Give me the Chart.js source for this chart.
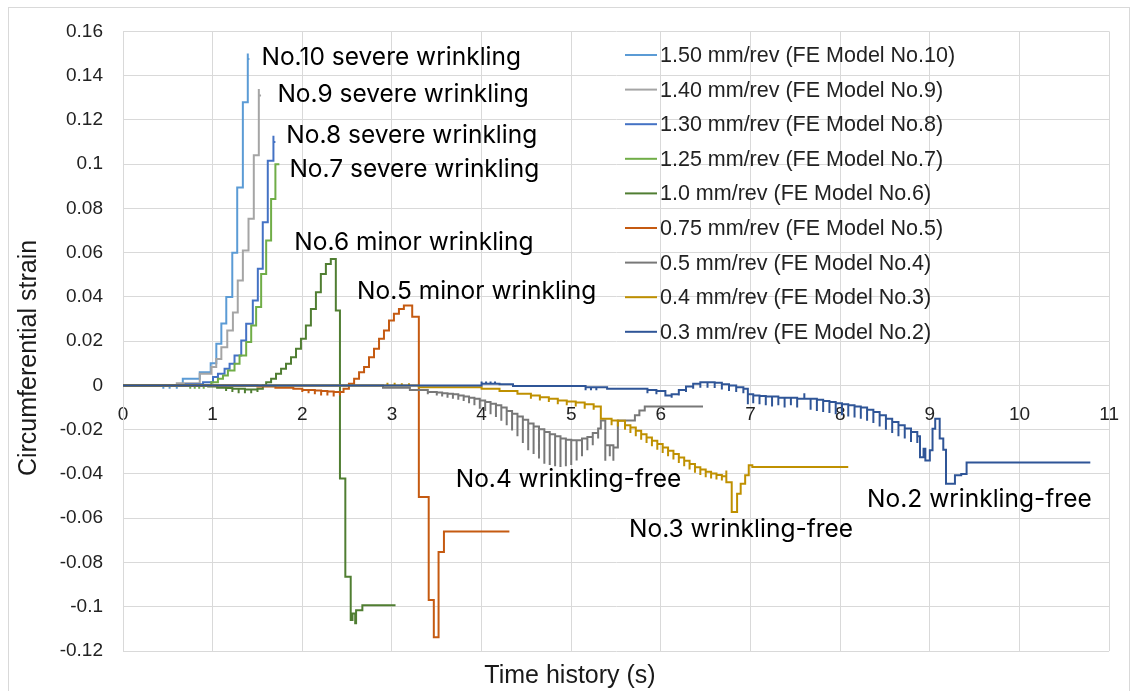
<!DOCTYPE html>
<html>
<head>
<meta charset="utf-8">
<title>Circumferential strain vs time</title>
<script src="https://cdn.jsdelivr.net/npm/chart.js@4.4.1/dist/chart.umd.min.js"></script>
<style>
  html, body { margin: 0; padding: 0; background: #fff; }
  #wrap { position: relative; width: 1137px; height: 691px; overflow: hidden; }
  #frame { position: absolute; left: 8px; top: 7px; width: 1122px; height: 700px; border: 1px solid #d9d9d9; box-sizing: border-box; }
  #chart { position: absolute; left: 0; top: 0; }
</style>
</head>
<body>
<div id="wrap">
  <div id="frame"></div>
  <canvas id="chart" width="1137" height="691"></canvas>
</div>
<script>
// feed rates, one series per FE model (No.10 first, No.2 last)
const seriesNames = [
  '1.50 mm/rev (FE Model No.10)',
  '1.40 mm/rev (FE Model No.9)',
  '1.30 mm/rev (FE Model No.8)',
  '1.25 mm/rev (FE Model No.7)',
  '1.0 mm/rev (FE Model No.6)',
  '0.75 mm/rev (FE Model No.5)',
  '0.5 mm/rev (FE Model No.4)',
  '0.4 mm/rev (FE Model No.3)',
  '0.3 mm/rev (FE Model No.2)'
];

const noteText = [
  'No.10 severe wrinkling',
  'No.9 severe wrinkling',
  'No.8 severe wrinkling',
  'No.7 severe wrinkling',
  'No.6 minor wrinkling',
  'No.5 minor wrinkling',
  'No.4 wrinkling-free',
  'No.3 wrinkling-free',
  'No.2 wrinkling-free'
];

// t = time where the step starts (s), y = strain level after it,
// p = tip of the short spike drawn at that step (null = none)
const t10 = [0, 0.45, 0.52, 0.60, 0.667, 0.856, 0.978, 1.041, 1.097, 1.152, 1.219, 1.274, 1.337, 1.392, 1.392, 1.41];
const y10 = [0, 0, 0, 0, 0.003, 0.006, 0.010, 0.0188, 0.028, 0.040, 0.060, 0.0895, 0.128, 0.150, 0.1475, 0.1475];
const p10 = [null, -0.0015, -0.0015, -0.0015, null, null, null, null, null, null, null, null, null, null, null, null];

const t9 = [0, 0.6, 0.856, 0.985, 1.04, 1.097, 1.163, 1.226, 1.28, 1.337, 1.40, 1.459, 1.515, 1.515, 1.54];
const y9 = [0, 0.001, 0.0053, 0.0083, 0.012, 0.0173, 0.0248, 0.033, 0.0474, 0.061, 0.0753, 0.104, 0.134, 0.131, 0.131];

const t8 = [0, 0.7, 0.893, 1.004, 1.059, 1.133, 1.189, 1.244, 1.319, 1.374, 1.448, 1.504, 1.559, 1.615, 1.678, 1.678, 1.70];
const y8 = [0, 0.0005, 0.0015, 0.0038, 0.0053, 0.0075, 0.0098, 0.0135, 0.0203, 0.0279, 0.0384, 0.0527, 0.0737, 0.1016, 0.1129, 0.110, 0.110];

const t7 = [0, 0.75, 0.8, 0.85, 0.9, 0.985, 1.059, 1.115, 1.17, 1.244, 1.30, 1.374, 1.43, 1.485, 1.541, 1.597, 1.652, 1.70, 1.744];
const y7 = [0, 0, 0, 0, 0, 0.0015, 0.003, 0.0045, 0.0068, 0.0098, 0.0135, 0.0196, 0.0271, 0.0354, 0.0504, 0.0655, 0.0843, 0.100, 0.100];
const p7 = [null, -0.0015, -0.0015, -0.0015, -0.0015, null, null, null, null, null, null, null, null, null, null, null, null, null, null];

const t6 = [0, 0.95, 1.05, 1.15, 1.22, 1.29, 1.36, 1.43, 1.50, 1.56, 1.597, 1.652, 1.707, 1.763, 1.818, 1.874, 1.93, 1.985, 2.04, 2.096, 2.152, 2.207, 2.263, 2.318, 2.374, 2.42, 2.48, 2.54, 2.56, 2.59, 2.60, 2.67, 3.04];
const y6 = [0, -0.0005, -0.001, -0.0012, -0.0015, -0.0015, -0.0018, -0.0018, -0.0015, 0, 0.0015, 0.003, 0.0053, 0.0075, 0.0098, 0.0128, 0.0166, 0.0211, 0.0271, 0.0346, 0.0421, 0.0504, 0.0549, 0.0572, 0.0339, -0.042, -0.0865, -0.106, -0.103, -0.1075, -0.1016, -0.0993, -0.0993];
const p6 = [null, null, null, -0.0025, -0.003, -0.0035, -0.0035, -0.0035, -0.003, null, null, null, null, null, null, null, null, null, null, null, null, null, null, null, null, null, null, null, null, null, null, null, null];

const t5 = [0, 1.5, 1.7, 1.9, 2.0, 2.07, 2.14, 2.21, 2.28, 2.35, 2.42, 2.46, 2.52, 2.578, 2.633, 2.689, 2.744, 2.80, 2.856, 2.911, 2.967, 3.022, 3.078, 3.133, 3.226, 3.30, 3.41, 3.467, 3.52, 3.58, 4.31];
const y5 = [0, -0.0005, -0.001, -0.0015, -0.002, -0.002, -0.0023, -0.0025, -0.0027, -0.003, -0.003, -0.0015, 0.0008, 0.003, 0.006, 0.0083, 0.0128, 0.0166, 0.0211, 0.0248, 0.0293, 0.0324, 0.0346, 0.0361, 0.031, -0.0504, -0.097, -0.1138, -0.0753, -0.066, -0.066];
const p5 = [null, null, null, null, -0.003, -0.0035, -0.004, -0.0045, -0.0045, -0.005, -0.0045, null, null, null, null, null, null, null, null, null, null, null, null, null, null, null, null, null, null, null, null];

const t4 = [0, 2.9, 3.2, 3.4,
  3.50, 3.56, 3.62, 3.68, 3.74, 3.80, 3.86, 3.92, 3.98, 4.04, 4.10, 4.16, 4.22, 4.28, 4.34, 4.40,
  4.46, 4.52, 4.58, 4.64, 4.70, 4.76, 4.82, 4.88, 4.94, 5.00, 5.06, 5.12, 5.18, 5.24, 5.30,
  5.33, 5.38, 5.43, 5.47, 5.52, 5.71, 5.76, 5.82, 6.47];
const y4 = [0, -0.001, -0.002, -0.003,
  -0.0032, -0.0035, -0.0038, -0.004, -0.0045, -0.005, -0.0055, -0.006, -0.0068, -0.0075, -0.0083, -0.009, -0.010, -0.0115, -0.0128, -0.014,
  -0.0155, -0.0172, -0.0185, -0.0198, -0.021, -0.022, -0.023, -0.024, -0.0245, -0.0248, -0.0248, -0.024, -0.0233, -0.0215, -0.0195,
  -0.0158, -0.027, -0.027, -0.028, -0.0158, -0.0135, -0.0113, -0.0095, -0.0095];
const p4 = [null, null, null, -0.004,
  -0.0045, -0.005, -0.0055, -0.006, -0.0065, -0.007, -0.008, -0.009, -0.0105, -0.0115, -0.013, -0.0143, -0.016, -0.018, -0.0203, -0.023,
  -0.026, -0.0293, -0.031, -0.033, -0.0354, -0.036, -0.0365, -0.0369, -0.0365, -0.036, -0.0339, -0.032, -0.0293, -0.027, -0.024,
  null, -0.034, -0.032, -0.034, null, null, null, null, null];

const t3 = [0, 2.95, 3.03, 3.11, 3.19, 3.3, 4.0, 4.2, 4.4,
  4.55, 4.65, 4.75, 4.85, 4.95, 5.05, 5.15, 5.25,
  5.33, 5.45, 5.52,
  5.60, 5.66, 5.72, 5.78, 5.84, 5.90, 5.96, 6.02, 6.08, 6.14, 6.20, 6.26, 6.32, 6.38, 6.44, 6.50, 6.56, 6.62, 6.68,
  6.73, 6.79, 6.85, 6.89, 6.94, 6.98, 7.02, 8.09];
const y3 = [0, 0, 0, 0, 0, -0.0008, -0.0015, -0.0025, -0.0038,
  -0.0045, -0.0053, -0.006, -0.0068, -0.0072, -0.0077, -0.0085, -0.0095,
  -0.015, -0.0158, -0.016,
  -0.018, -0.019, -0.0205, -0.022, -0.0235, -0.025, -0.0265, -0.028, -0.0295, -0.031, -0.0325, -0.034, -0.0355, -0.037, -0.038, -0.039, -0.0398, -0.0405, -0.041,
  -0.0437, -0.0572, -0.0489, -0.0444, -0.0406, -0.0361, -0.0369, -0.0369];
const p3 = [null, 0.0012, 0.0012, 0.001, 0.001, null, null, null, null,
  -0.006, -0.0068, -0.0075, -0.0085, -0.009, -0.0095, -0.0105, -0.011,
  null, -0.018, -0.0185,
  -0.020, -0.0215, -0.023, -0.0245, -0.026, -0.0275, -0.029, -0.0305, -0.032, -0.0335, -0.035, -0.0365, -0.038, -0.0395, -0.0405, -0.0415, -0.042, -0.0425, -0.043,
  -0.0384, null, null, null, null, null, null, null];

const t2 = [0, 4.0, 4.05, 4.1, 4.15, 4.2, 4.35,
  5.16, 5.22, 5.28, 5.4, 5.74,
  5.85, 5.95, 6.05, 6.12, 6.2, 6.28, 6.36, 6.44, 6.52, 6.6, 6.68, 6.76, 6.84, 6.92,
  6.97, 7.03, 7.1, 7.17, 7.24, 7.31, 7.38, 7.45, 7.52, 7.6,
  7.67, 7.74, 7.81, 7.88, 7.95, 8.02, 8.09, 8.16, 8.23, 8.30,
  8.37, 8.44, 8.51, 8.58, 8.65, 8.72, 8.79, 8.86,
  8.89, 8.93, 8.95, 9.0, 9.03, 9.06, 9.11, 9.15, 9.18, 9.28, 9.35, 9.41, 10.79];
const y2 = [0, 0.0008, 0.0008, 0.0008, 0.0008, 0.0005, -0.0003,
  -0.0008, -0.0008, -0.0008, -0.0015, -0.0015,
  -0.002, -0.0025, -0.0045, -0.004, -0.002, -0.0005, 0.0008, 0.0015, 0.0015, 0.0012, 0.0005, 0, -0.0008, -0.0015,
  -0.004, -0.0045, -0.0048, -0.005, -0.005, -0.0055, -0.0055, -0.0055, -0.006, -0.006,
  -0.006, -0.0065, -0.007, -0.0075, -0.008, -0.0085, -0.009, -0.0095, -0.010, -0.011,
  -0.012, -0.0135, -0.015, -0.0165, -0.018, -0.0195, -0.021, -0.023,
  -0.0324, -0.0286, -0.0339, -0.0293, -0.0196, -0.015, -0.024, -0.029, -0.0444, -0.0406, -0.040, -0.0348, -0.0348];
const p2 = [null, 0.0018, 0.0018, 0.0018, 0.0018, null, null,
  -0.0022, -0.0022, -0.0022, null, null,
  -0.0035, -0.004, null, -0.0055, -0.0045, -0.003, -0.0015, -0.001, -0.001, -0.0012, -0.0018, -0.0025, -0.003, -0.0035,
  -0.0085, -0.008, -0.0085, -0.009, -0.0095, -0.009, -0.010, -0.009, -0.010, -0.0035,
  -0.011, -0.0115, -0.012, -0.0125, -0.013, -0.0135, -0.014, -0.0145, -0.015, -0.016,
  -0.017, -0.0185, -0.020, -0.0215, -0.023, -0.024, -0.0255, -0.026,
  null, null, null, null, null, null, null, null, null, null, null, null, null];

const seriesColors = ['#5b9bd5', '#a5a5a5', '#4472c4', '#70ad47', '#507e32', '#c55a11', '#787878', '#bf9000', '#2f5597'];

// turn step arrays into {x, y} points; a spike is an extra point at the same time
function stepPoints(t, y, p) {
  const pts = [];
  t.forEach((x, i) => {
    if (p && p[i] !== null) pts.push({ x, y: p[i] });
    pts.push({ x, y: y[i] });
  });
  return pts;
}

const series = [
  stepPoints(t10, y10, p10),
  stepPoints(t9, y9),
  stepPoints(t8, y8),
  stepPoints(t7, y7, p7),
  stepPoints(t6, y6, p6),
  stepPoints(t5, y5, p5),
  stepPoints(t4, y4, p4),
  stepPoints(t3, y3, p3),
  stepPoints(t2, y2, p2)
];

const datasets = series.map((pts, i) => ({
  label: seriesNames[i],
  data: pts,
  borderColor: seriesColors[i],
  backgroundColor: seriesColors[i],
  borderWidth: 2,
  pointRadius: 0,
  stepped: 'before',
  fill: false,
  order: series.length - 1 - i   // later models drawn on top
}));

const gridColor = '#d9d9d9';
const tickFont = { family: '"Liberation Sans", Arial, sans-serif', size: 19 };

// legend, curve notes and axis titles drawn straight on the canvas
const overlay = {
  id: 'overlay',
  afterDatasetsDraw(chart, args, o) {
    const { ctx, scales: { x, y } } = chart;
    ctx.save();

    ctx.font = o.noteFont;
    ctx.fillStyle = '#000';
    ctx.textAlign = 'left';
    ctx.textBaseline = 'middle';
    noteText.forEach((s, i) => {
      const at = o.noteAt[i];
      ctx.fillText(s, x.getPixelForValue(at[0]), y.getPixelForValue(at[1]));
    });

    ctx.font = o.legendFont;
    ctx.fillStyle = '#222';
    chart.data.datasets.forEach((ds, i) => {
      const cy = o.legend.top + i * o.legend.row;
      ctx.strokeStyle = ds.borderColor;
      ctx.lineWidth = 2;
      ctx.beginPath();
      ctx.moveTo(o.legend.left, cy);
      ctx.lineTo(o.legend.left + o.legend.line, cy);
      ctx.stroke();
      ctx.fillText(ds.label, o.legend.left + o.legend.line + 3, cy + 1);
    });

    ctx.font = o.titleFont;
    ctx.fillStyle = '#1a1a1a';
    ctx.textAlign = 'center';
    ctx.fillText('Time history (s)', o.xTitle[0], o.xTitle[1]);
    ctx.translate(o.yTitle[0], o.yTitle[1]);
    ctx.rotate(-Math.PI / 2);
    ctx.fillText('Circumferential strain', 0, 0);
    ctx.restore();
  }
};

new Chart(document.getElementById('chart'), {
  type: 'line',
  data: { datasets },
  options: {
    responsive: false,
    animation: false,
    events: [],
    layout: { padding: { top: 31, right: 24, bottom: 40, left: 0 } },
    plugins: {
      legend: { display: false },
      tooltip: { enabled: false },
      overlay: {
        noteFont: '24.5px Inter, "Liberation Sans", sans-serif',
        legendFont: '21.5px "Liberation Sans", Arial, sans-serif',
        titleFont: '25px "Liberation Sans", Arial, sans-serif',
        noteAt: [[1.544, 0.1481], [1.722, 0.1314], [1.822, 0.1129], [1.856, 0.0975], [1.911, 0.0646],
                 [2.611, 0.0424], [3.711, -0.0424], [5.644, -0.065], [8.3, -0.0515]],
        legend: { left: 625, top: 55, row: 34.6, line: 32 },
        xTitle: [570, 676],
        yTitle: [29, 358]
      }
    },
    scales: {
      x: {
        type: 'linear',
        position: { y: 0 },
        min: 0,
        max: 11,
        ticks: { stepSize: 1, padding: 18, color: '#222', font: tickFont },
        grid: { color: gridColor, drawTicks: false },
        border: { display: false }
      },
      y: {
        type: 'linear',
        min: -0.12,
        max: 0.16,
        ticks: {
          stepSize: 0.02,
          maxTicksLimit: 20,
          padding: 20,
          color: '#222',
          font: tickFont,
          callback: v => String(+v.toFixed(2))
        },
        grid: { color: gridColor, drawTicks: false },
        border: { color: gridColor },
        afterFit(scale) { scale.width = 123; }
      }
    }
  },
  plugins: [overlay]
});
</script>
</body>
</html>
